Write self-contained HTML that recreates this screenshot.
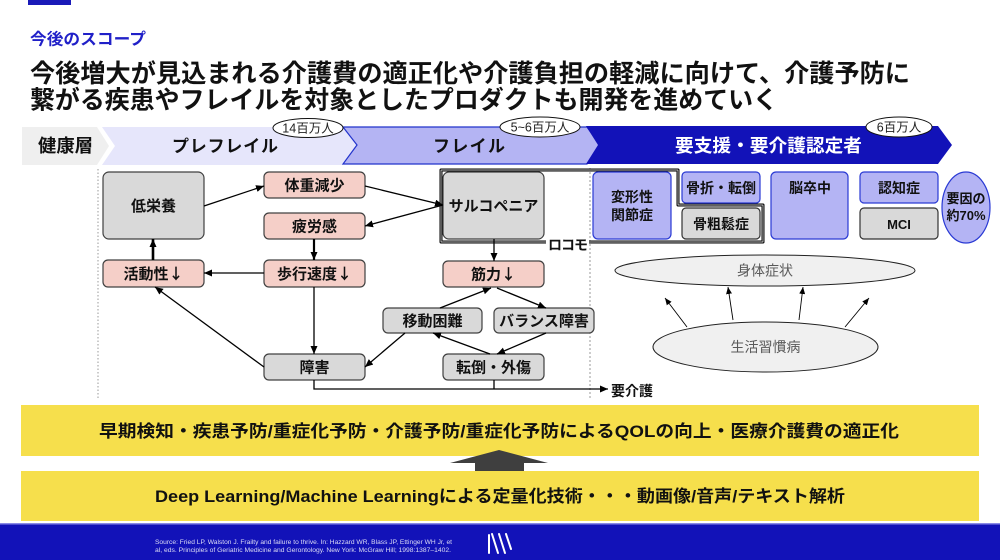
<!DOCTYPE html>
<html><head><meta charset="utf-8"><style>
html,body{margin:0;padding:0;background:#fff;width:1000px;height:560px;overflow:hidden}
svg{display:block}
text{font-family:"Liberation Sans","Noto Sans CJK JP",sans-serif}
.b{font-weight:bold}
.ar{font-family:"Noto Sans CJK JP",sans-serif;font-weight:bold}
</style></head><body>
<svg width="1000" height="560" viewBox="0 0 1000 560" xmlns="http://www.w3.org/2000/svg">
<defs>
<marker id="a" markerWidth="8" markerHeight="7" refX="8" refY="3.5" orient="auto" markerUnits="userSpaceOnUse"><path d="M0,0 L8,3.5 L0,7 z" fill="#000"/></marker>
<marker id="s" markerWidth="7" markerHeight="6" refX="7" refY="3" orient="auto" markerUnits="userSpaceOnUse"><path d="M0,0 L7,3 L0,6 z" fill="#000"/></marker>
</defs>
<rect x="28" y="0" width="43" height="5" fill="#1a1ab8"/>
<text x="30" y="44.5" font-size="16" class="b" fill="#2020c8" textLength="116" lengthAdjust="spacingAndGlyphs">今後のスコープ</text>
<text x="30" y="82" font-size="25" class="b" fill="#111" textLength="880" lengthAdjust="spacingAndGlyphs">今後増大が見込まれる介護費の適正化や介護負担の軽減に向けて、介護予防に</text>
<text x="30" y="108.5" font-size="25" class="b" fill="#111" textLength="748" lengthAdjust="spacingAndGlyphs">繋がる疾患やフレイルを対象としたプロダクトも開発を進めていく</text>

<!-- banner -->
<polygon points="22,127 97,127 109,146 97,165 22,165" fill="#efefef"/>
<polygon points="102,127 343,127 357,146 343,165 102,165 115,146" fill="#e6e6fb"/>
<polygon points="343,127 587,127 600,145 587,164 343,164 357,145" fill="#b4b4f3" stroke="#2233cc" stroke-width="1.2"/>
<polygon points="586,126 938,126 952,145 938,164 586,164 598,145" fill="#1212b8"/>
<text x="38" y="152" font-size="18" class="b" fill="#111" textLength="55" lengthAdjust="spacingAndGlyphs">健康層</text>
<text x="172" y="152" font-size="17" class="b" fill="#111" textLength="106" lengthAdjust="spacing">プレフレイル</text>
<text x="433" y="152" font-size="17" class="b" fill="#111" textLength="72" lengthAdjust="spacing">フレイル</text>
<text x="675" y="152" font-size="18" class="b" fill="#fff" textLength="187" lengthAdjust="spacingAndGlyphs">要支援・要介護認定者</text>
<ellipse cx="308" cy="128" rx="35" ry="9.5" fill="#fff" stroke="#111" stroke-width="1"/>
<text x="308" y="132.5" font-size="12.5" fill="#222" text-anchor="middle">14百万人</text>
<ellipse cx="540" cy="127" rx="40" ry="10" fill="#fff" stroke="#111" stroke-width="1"/>
<text x="540" y="131.5" font-size="12.5" fill="#222" text-anchor="middle">5~6百万人</text>
<ellipse cx="899" cy="127" rx="33" ry="10" fill="#fff" stroke="#111" stroke-width="1"/>
<text x="899" y="131.5" font-size="12.5" fill="#222" text-anchor="middle">6百万人</text>

<!-- separators -->
<line x1="98" y1="169" x2="98" y2="400" stroke="#aaa" stroke-width="1.2" stroke-dasharray="1.5,2"/>
<line x1="590" y1="168" x2="590" y2="400" stroke="#999" stroke-width="1" stroke-dasharray="2,2"/>

<!-- locomo frame -->
<path d="M441,170 H678 V205 H763 V242 H441 Z" fill="none" stroke="#000" stroke-width="3" stroke-linejoin="round"/>
<path d="M441,170 H678 V205 H763 V242 H441 Z" fill="none" stroke="#fff" stroke-width="0.7" stroke-linejoin="round"/>
<rect x="546" y="236" width="43" height="15" fill="#fff"/>
<text x="548" y="250" font-size="14" class="b" fill="#111" textLength="40" lengthAdjust="spacing">ロコモ</text>

<!-- left/middle boxes -->
<g stroke="#404040" stroke-width="1.2">
<rect x="103" y="172" width="101" height="67" rx="6" fill="#d9d9d9"/>
<rect x="264" y="172" width="101" height="26" rx="5" fill="#f5cfc8"/>
<rect x="264" y="213" width="101" height="26" rx="5" fill="#f5cfc8"/>
<rect x="103" y="260" width="101" height="27" rx="5" fill="#f5cfc8"/>
<rect x="264" y="260" width="101" height="27" rx="5" fill="#f5cfc8"/>
<rect x="264" y="354" width="101" height="26" rx="5" fill="#d9d9d9"/>
<rect x="443" y="172" width="101" height="67" rx="6" fill="#d9d9d9"/>
<rect x="443" y="261" width="101" height="26" rx="5" fill="#f5cfc8"/>
<rect x="383" y="308" width="99" height="25" rx="5" fill="#d9d9d9"/>
<rect x="494" y="308" width="100" height="25" rx="5" fill="#d9d9d9"/>
<rect x="443" y="354" width="101" height="26" rx="5" fill="#d9d9d9"/>
</g>
<g font-size="15" class="b" fill="#111" text-anchor="middle">
<text x="153.5" y="211">低栄養</text>
<text x="314.5" y="190.5">体重減少</text>
<text x="314.5" y="231.5">疲労感</text>
<text x="153.5" y="279">活動性<tspan class="ar">↓</tspan></text>
<text x="314.5" y="279">歩行速度<tspan class="ar">↓</tspan></text>
<text x="314.5" y="372.5">障害</text>
<text x="493.5" y="211">サルコペニア</text>
<text x="493.5" y="279.5">筋力<tspan class="ar">↓</tspan></text>
<text x="432.5" y="326">移動困難</text>
<text x="544" y="326">バランス障害</text>
<text x="493.5" y="372.5">転倒・外傷</text>
</g>

<!-- arrows -->
<g stroke="#000" stroke-width="1.3" fill="none">
<line x1="204" y1="206" x2="264" y2="186" marker-end="url(#a)"/>
<line x1="365" y1="186" x2="443" y2="205" marker-end="url(#a)"/>
<line x1="443" y1="205" x2="365" y2="226" marker-end="url(#a)"/>
<line x1="314" y1="239" x2="314" y2="260" stroke-width="2.2" marker-end="url(#a)"/>
<line x1="264" y1="273" x2="204" y2="273" marker-end="url(#a)"/>
<line x1="153" y1="260" x2="153" y2="239" stroke-width="2.6" marker-end="url(#a)"/>
<line x1="314" y1="287" x2="314" y2="354" marker-end="url(#a)"/>
<line x1="264" y1="367" x2="155" y2="287" marker-end="url(#a)"/>
<polyline points="314,380 314,389 608,389" marker-end="url(#a)"/>
<line x1="494" y1="380" x2="494" y2="389"/>
<line x1="494" y1="239" x2="494" y2="261" marker-end="url(#a)"/>
<line x1="440" y1="308" x2="491" y2="288" marker-end="url(#a)"/>
<line x1="497" y1="288" x2="546" y2="308" marker-end="url(#a)"/>
<line x1="546" y1="333" x2="497" y2="354" marker-end="url(#a)"/>
<line x1="490" y1="354" x2="433" y2="333" marker-end="url(#a)"/>
<line x1="405" y1="333" x2="365" y2="367" marker-end="url(#a)"/>
</g>
<text x="611" y="396" font-size="14" class="b" fill="#111">要介護</text>

<!-- right boxes -->
<g stroke="#2a3ad4" stroke-width="1.2" fill="#b4b4f4">
<rect x="593" y="172" width="78" height="67" rx="5"/>
<rect x="682" y="172" width="78" height="31" rx="4"/>
<rect x="771" y="172" width="77" height="67" rx="5"/>
<rect x="860" y="172" width="78" height="31" rx="4"/>
<ellipse cx="966" cy="207.5" rx="24" ry="35.5"/>
</g>
<g stroke="#333" stroke-width="1.2" fill="#d9d9d9">
<rect x="682" y="208" width="78" height="31" rx="4"/>
<rect x="860" y="208" width="78" height="31" rx="4"/>
</g>
<g font-size="14" class="b" fill="#111" text-anchor="middle">
<text x="632" y="202">変形性</text>
<text x="632" y="220">関節症</text>
<text x="721" y="193">骨折・転倒</text>
<text x="721" y="229">骨粗鬆症</text>
<text x="810" y="193">脳卒中</text>
<text x="899" y="193">認知症</text>
<text x="899" y="229" font-size="13">MCI</text>
<text x="966" y="203" font-size="13">要因の</text>
<text x="966" y="220" font-size="13">約70%</text>
</g>
<ellipse cx="765" cy="270.5" rx="150" ry="15.5" fill="#f0f0f0" stroke="#222" stroke-width="1"/>
<text x="765" y="275.5" font-size="14" fill="#595959" text-anchor="middle">身体症状</text>
<ellipse cx="765.5" cy="347" rx="112.5" ry="25" fill="#f0f0f0" stroke="#222" stroke-width="1"/>
<text x="765.5" y="352" font-size="14" fill="#595959" text-anchor="middle">生活習慣病</text>
<g stroke="#000" stroke-width="0.9">
<line x1="687" y1="327" x2="665" y2="298" marker-end="url(#s)"/>
<line x1="733" y1="320" x2="728" y2="287" marker-end="url(#s)"/>
<line x1="799" y1="320" x2="803" y2="287" marker-end="url(#s)"/>
<line x1="845" y1="327" x2="869" y2="298" marker-end="url(#s)"/>
</g>

<!-- bottom -->
<rect x="21" y="405" width="958" height="51" fill="#f6df4c"/>
<text x="99" y="437" font-size="17" class="b" fill="#111" textLength="800" lengthAdjust="spacingAndGlyphs">早期検知・疾患予防/重症化予防・介護予防/重症化予防によるQOLの向上・医療介護費の適正化</text>
<polygon points="450,463 499,450 548,463 524,463 524,477 475,477 475,463" fill="#3f3f3f"/>
<rect x="21" y="471" width="958" height="50" fill="#f6df4c"/>
<text x="155" y="502" font-size="17" class="b" fill="#111" textLength="690" lengthAdjust="spacingAndGlyphs">Deep Learning/Machine Learningによる定量化技術・・・動画像/音声/テキスト解析</text>
<rect x="0" y="523" width="1000" height="37" fill="#1212b8"/>
<rect x="0" y="523" width="1000" height="1.5" fill="#8a8ae6"/>
<text x="155" y="544" font-size="6.5" fill="#dcdcf5" textLength="297" lengthAdjust="spacingAndGlyphs">Source: Fried LP, Walston J. Frailty and failure to thrive. In: Hazzard WR, Blass JP, Ettinger WH Jr, et</text>
<text x="155" y="552" font-size="6.5" fill="#dcdcf5" textLength="296" lengthAdjust="spacingAndGlyphs">al, eds. Principles of Geriatric Medicine and Gerontology. New York: McGraw Hill; 1998:1387–1402.</text>
<g stroke="#fff" stroke-width="2" stroke-linecap="round">
<line x1="489" y1="535" x2="489" y2="553"/>
<line x1="492" y1="534" x2="498" y2="553"/>
<line x1="499" y1="534" x2="505" y2="553"/>
<line x1="506" y1="534" x2="511" y2="549"/>
</g>
</svg>
</body></html>
